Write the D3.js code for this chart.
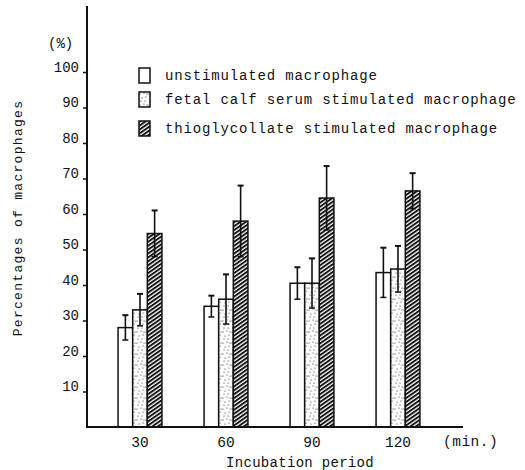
<html>
<head>
<style>
  body { margin: 0; background: #fff; }
  svg text { font-family: "Liberation Mono", "DejaVu Sans Mono", monospace; fill: #111; }
</style>
</head>
<body>
<svg id="chart" width="525" height="470"></svg>
<script src="https://cdn.jsdelivr.net/npm/d3@7"></script>
<script>
// data
let times = ["30", "60", "90", "120"]
let seriesNames = [
  "unstimulated macrophage",
  "fetal calf serum stimulated macrophage",
  "thioglycollate stimulated macrophage"
]
let unstim = [28, 34, 40.5, 43.5]
let unstimErr = [3.5, 3, 4.5, 7]
let fcs = [33, 36, 40.5, 44.5]
let fcsErr = [4.5, 7, 7, 6.5]
let thio = [54.5, 58, 64.5, 66.5]
let thioErr = [6.5, 10, 9, 5]
let yTicks = [10, 20, 30, 40, 50, 60, 70, 80, 90, 100]

let svg = d3.select("#chart")
let fills = ["#fff", "url(#dots)", "url(#hatch)"]

// textures
let defs = svg.append("defs")
let dots = defs.append("pattern")
  .attr("id", "dots").attr("patternUnits", "userSpaceOnUse")
  .attr("width", 9).attr("height", 11)
dots.append("rect").attr("width", 9).attr("height", 11).attr("fill", "#fff")
;[[1, 2], [5, 1], [3, 6], [7, 5], [2, 9], [6, 9], [8, 2]].forEach(p => {
  dots.append("circle").attr("cx", p[0]).attr("cy", p[1]).attr("r", 0.6).attr("fill", "#222")
})
let hatch = defs.append("pattern")
  .attr("id", "hatch").attr("patternUnits", "userSpaceOnUse")
  .attr("width", 3.2).attr("height", 3.2)
  .attr("patternTransform", "rotate(-35)")
hatch.append("rect").attr("width", 3.2).attr("height", 3.2).attr("fill", "#fff")
hatch.append("rect").attr("width", 3.2).attr("height", 1.9).attr("fill", "#111")

let y = d3.scaleLinear().domain([0, 100]).range([427, 72])
let x = d3.scaleBand().domain(times).range([97, 441])
  .paddingInner(0.49).paddingOuter(0.245)
let xs = d3.scaleBand().domain(d3.range(3)).range([0, x.bandwidth()])

let rows = times.map((t, i) => ({
  t: t,
  bars: [
    {s: 0, v: unstim[i], e: unstimErr[i]},
    {s: 1, v: fcs[i], e: fcsErr[i]},
    {s: 2, v: thio[i], e: thioErr[i]}
  ]
}))

// axes
let yAxis = d3.axisLeft(y).tickValues(yTicks).tickSize(4).tickSizeOuter(0).tickPadding(4)
let gy = svg.append("g").attr("transform", "translate(87,0)").call(yAxis)
gy.select(".domain").remove()
gy.selectAll("line").attr("stroke", "#111").attr("stroke-width", 1.5)
gy.selectAll("text").attr("font-size", 14).attr("dy", "-0.05em")

let xAxis = d3.axisBottom(x).tickSize(0).tickPadding(10)
let gx = svg.append("g").attr("transform", "translate(0,427)").call(xAxis)
gx.select(".domain").remove()
gx.selectAll("text").attr("font-size", 14.5)

// bars
let groups = svg.selectAll(".grp").data(rows).enter().append("g")
  .attr("transform", d => "translate(" + x(d.t) + ",0)")

groups.selectAll("rect").data(d => d.bars).enter().append("rect")
  .attr("x", d => xs(d.s))
  .attr("y", d => y(d.v))
  .attr("width", xs.bandwidth())
  .attr("height", d => y(0) - y(d.v))
  .attr("fill", d => fills[d.s])
  .attr("stroke", "#111")
  .attr("stroke-width", 1.5)

let err = groups.selectAll(".err").data(d => d.bars).enter().append("g")
  .attr("transform", d => "translate(" + (xs(d.s) + xs.bandwidth() / 2) + ",0)")
err.append("line")
  .attr("y1", d => y(d.v - d.e)).attr("y2", d => y(d.v + d.e))
  .attr("stroke", "#111").attr("stroke-width", 1.6)
err.append("line")
  .attr("x1", -3).attr("x2", 3)
  .attr("y1", d => y(d.v + d.e)).attr("y2", d => y(d.v + d.e))
  .attr("stroke", "#111").attr("stroke-width", 2)
err.append("line")
  .attr("x1", -3).attr("x2", 3)
  .attr("y1", d => y(d.v - d.e)).attr("y2", d => y(d.v - d.e))
  .attr("stroke", "#111").attr("stroke-width", 1.5)

// axis lines
svg.append("line").attr("x1", 87).attr("x2", 87).attr("y1", 6).attr("y2", 428)
  .attr("stroke", "#111").attr("stroke-width", 2)
svg.append("line").attr("x1", 86).attr("x2", 463).attr("y1", 427).attr("y2", 427)
  .attr("stroke", "#111").attr("stroke-width", 2)

// text
svg.append("text").attr("x", 48).attr("y", 48).attr("font-size", 14).text("(%)")
svg.append("text").attr("x", 443).attr("y", 446).attr("font-size", 14.5)
  .attr("letter-spacing", 0.5).text("(min.)")
svg.append("text").attr("x", 300).attr("y", 467).attr("text-anchor", "middle")
  .attr("font-size", 14).attr("letter-spacing", 0.3).text("Incubation period")
svg.append("text")
  .attr("transform", "translate(22,218) rotate(-90)")
  .attr("text-anchor", "middle").attr("font-size", 13).attr("letter-spacing", 1.3)
  .text("Percentages of macrophages")

// legend
let leg = svg.selectAll(".leg").data(seriesNames).enter().append("g")
  .attr("transform", (d, i) => "translate(139," + [68, 92, 121][i] + ")")
leg.append("rect").attr("width", 11).attr("height", 15)
  .attr("fill", (d, i) => fills[i]).attr("stroke", "#111").attr("stroke-width", 1.5)
leg.append("text").attr("x", 26).attr("y", 12)
  .attr("font-size", 14).attr("letter-spacing", 0.85)
  .text(d => d)
</script>
</body>
</html>
